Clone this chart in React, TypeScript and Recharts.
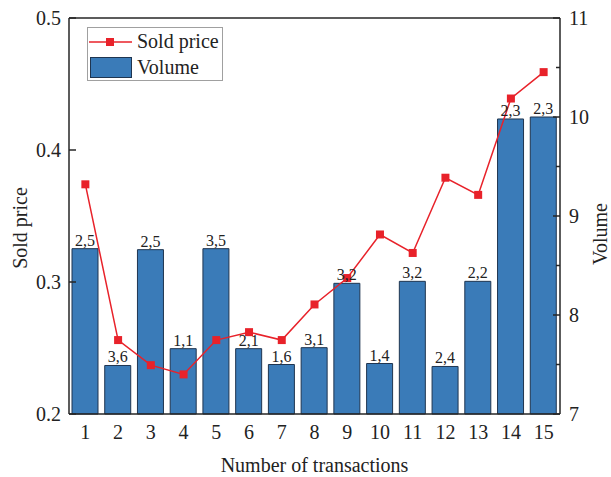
import React from 'react';
import {
  ComposedChart,
  Bar,
  Line,
  XAxis,
  YAxis,
  Legend,
  LabelList,
  ReferenceLine,
  Label,
} from 'recharts';

const transactions = ['1', '2', '3', '4', '5', '6', '7', '8', '9', '10', '11', '12', '13', '14', '15'];
const soldPrice = [0.374, 0.256, 0.237, 0.23, 0.256, 0.262, 0.256, 0.283, 0.303, 0.336, 0.322, 0.379, 0.366, 0.439, 0.459];
const volume = [8.67, 7.49, 8.66, 7.66, 8.67, 7.66, 7.5, 7.67, 8.32, 7.51, 8.34, 7.48, 8.34, 9.98, 10.0];
const volumeLabels = ['2,5', '3,6', '2,5', '1,1', '3,5', '2,1', '1,6', '3,1', '3,2', '1,4', '3,2', '2,4', '2,2', '2,3', '2,3'];

const priceTicks = [0.2, 0.3, 0.4, 0.5];
const volumeTicks = [7, 7.5, 8, 8.5, 9, 9.5, 10, 10.5, 11];

const FONT = '"Liberation Serif", "Times New Roman", serif';
const AXIS = '#262626';
const BAR_FILL = '#3a7bb8';
const BAR_EDGE = '#1f3550';
const RED = '#e8222a';

const data = transactions.map((t, i) => ({
  t,
  price: soldPrice[i],
  volume: volume[i],
  label: volumeLabels[i],
}));

const LeftTick = (props: any) => {
  const { x, y, payload } = props;
  return (
    <g>
      <line x1={x} x2={x + 7} y1={y} y2={y} stroke={AXIS} strokeWidth={1.5} />
      <text x={x - 8} y={y} textAnchor="end" dominantBaseline="central" fontSize={20} fontFamily={FONT} fill="#222">
        {payload.value.toFixed(1)}
      </text>
    </g>
  );
};

const RightTick = (props: any) => {
  const { x, y, payload } = props;
  const major = Number.isInteger(payload.value);
  return (
    <g>
      <line x1={x} x2={x - (major ? 7 : 4)} y1={y} y2={y} stroke={AXIS} strokeWidth={1.5} />
      {major && (
        <text x={x + 9} y={y} textAnchor="start" dominantBaseline="central" fontSize={20} fontFamily={FONT} fill="#222">
          {payload.value}
        </text>
      )}
    </g>
  );
};

const BottomTick = (props: any) => {
  const { x, y, payload } = props;
  return (
    <text x={x} y={y + 18} textAnchor="middle" dominantBaseline="central" fontSize={20} fontFamily={FONT} fill="#222">
      {payload.value}
    </text>
  );
};

const LegendBox = () => (
  <svg width={137} height={55}>
    <rect x={0.5} y={0.5} width={135} height={53} fill="#fff" stroke="#a0a0a0" strokeWidth={1} />
    <line x1={2} x2={45} y1={15} y2={15} stroke={RED} strokeWidth={1.5} />
    <rect x={19} y={11} width={8} height={8} fill={RED} />
    <text x={50} y={21} fontSize={20} fontFamily={FONT} fill="#222">Sold price</text>
    <rect x={3.5} y={30.5} width={41} height={20} fill={BAR_FILL} stroke={BAR_EDGE} strokeWidth={1} />
    <text x={50} y={47} fontSize={20} fontFamily={FONT} fill="#222">Volume</text>
  </svg>
);

export default function App() {
  return (
    <div style={{ position: 'absolute', left: 0, top: 0, background: '#fff' }}>
      <ComposedChart width={611} height={477} data={data} margin={{ top: 18, right: 0, bottom: 0, left: 0 }}>
        <XAxis
          dataKey="t"
          height={63}
          interval={0}
          tickLine={false}
          tickSize={0}
          tickMargin={0}
          tick={<BottomTick />}
          axisLine={{ stroke: AXIS, strokeWidth: 1.5 }}
        >
          <Label
            content={(p: any) => (
              <text
                x={p.viewBox.x + p.viewBox.width / 2}
                y={p.viewBox.y + 51}
                textAnchor="middle"
                dominantBaseline="central"
                fontSize={20}
                fontFamily={FONT}
                fill="#222"
              >
                Number of transactions
              </text>
            )}
          />
        </XAxis>
        <YAxis
          yAxisId="left"
          width={69}
          domain={[0.2, 0.5]}
          ticks={priceTicks}
          interval={0}
          tickLine={false}
          tickSize={0}
          tickMargin={0}
          tick={<LeftTick />}
          axisLine={{ stroke: AXIS, strokeWidth: 1.5 }}
        >
          <Label
            content={(p: any) => {
              const cx = p.viewBox.x + 20;
              const cy = p.viewBox.y + p.viewBox.height / 2 + 12;
              return (
                <text
                  x={cx}
                  y={cy}
                  transform={`rotate(-90 ${cx} ${cy})`}
                  textAnchor="middle"
                  dominantBaseline="central"
                  fontSize={20}
                  fontFamily={FONT}
                  fill="#222"
                >
                  Sold price
                </text>
              );
            }}
          />
        </YAxis>
        <YAxis
          yAxisId="right"
          orientation="right"
          width={51}
          domain={[7, 11]}
          ticks={volumeTicks}
          interval={0}
          tickLine={false}
          tickSize={0}
          tickMargin={0}
          tick={<RightTick />}
          axisLine={{ stroke: AXIS, strokeWidth: 1.5 }}
        >
          <Label
            content={(p: any) => {
              const cx = p.viewBox.x + 40;
              const cy = p.viewBox.y + p.viewBox.height / 2 + 18;
              return (
                <text
                  x={cx}
                  y={cy}
                  transform={`rotate(-90 ${cx} ${cy})`}
                  textAnchor="middle"
                  dominantBaseline="central"
                  fontSize={20}
                  fontFamily={FONT}
                  fill="#222"
                >
                  Volume
                </text>
              );
            }}
          />
        </YAxis>
        <ReferenceLine yAxisId="left" y={0.5} stroke={AXIS} strokeWidth={1.5} />
        <Legend
          layout="vertical"
          align="center"
          verticalAlign="middle"
          content={<LegendBox />}
          wrapperStyle={{ left: 87, top: 27, width: 137, height: 55 }}
        />
        <Bar yAxisId="right" dataKey="volume" barSize={26} fill={BAR_FILL} stroke={BAR_EDGE} strokeWidth={1} isAnimationActive={false}>
          <LabelList dataKey="label" position="top" offset={3} fontSize={16} fontFamily={FONT} fill="#222" />
        </Bar>
        <Line
          yAxisId="left"
          dataKey="price"
          stroke={RED}
          strokeWidth={1.5}
          dot={(p: any) => <rect key={p.index} x={p.cx - 4} y={p.cy - 4} width={8} height={8} fill={RED} />}
          isAnimationActive={false}
        />
      </ComposedChart>
    </div>
  );
}
